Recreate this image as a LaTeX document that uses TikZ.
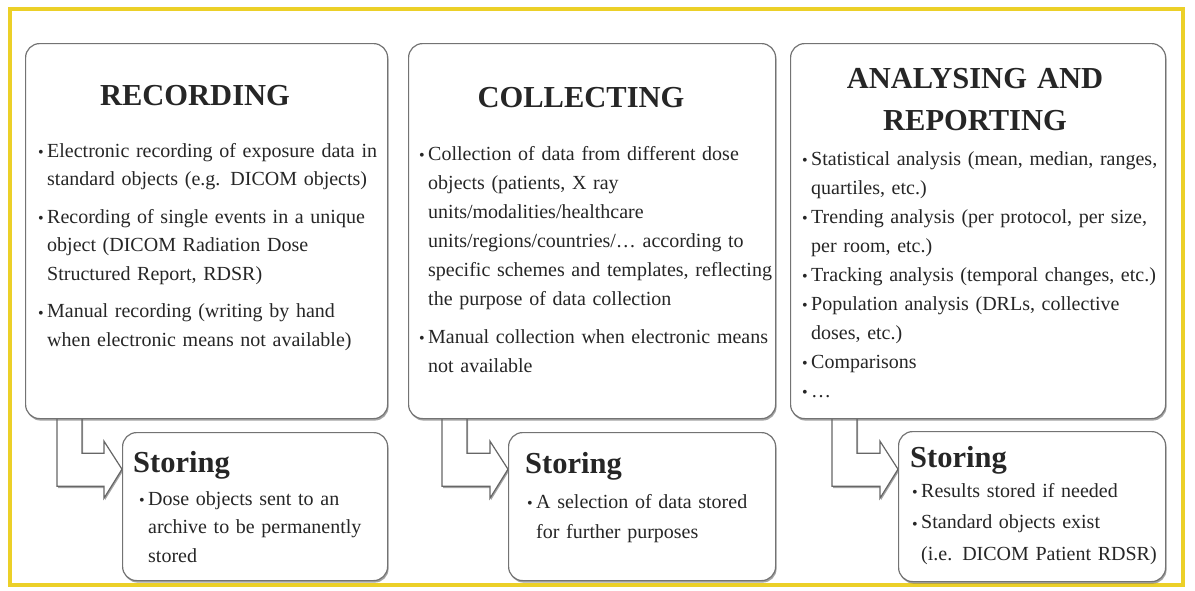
\documentclass[tikz,border=0pt]{standalone}
\usepackage{fontspec}
\setmainfont{Liberation Serif}
\usetikzlibrary{shadows,calc,backgrounds}
\definecolor{framegold}{RGB}{236,208,40}

\newcommand{\bul}{\makebox[9pt][l]{\raisebox{-0.04em}{\scalebox{0.8}{\textbullet}}}}
\newcommand{\bitem}[1]{\hangindent=9pt\hangafter=1\noindent\bul#1\par}

\begin{document}
\begin{tikzpicture}[x=1pt,y=-1pt,
  stagebox/.style={draw=black!55,line width=1.2pt,rounded corners=14pt,fill=white,
    anchor=north west,inner sep=0pt,
    drop shadow={shadow xshift=1pt,shadow yshift=-2pt,fill=black!60,opacity=0.6}},
  bentarrow/.style={draw=black!60,line width=1.2pt,fill=white,
    drop shadow={shadow xshift=1pt,shadow yshift=-2pt,fill=black!60,opacity=0.6}},
  heading/.style={font=\fontsize{30.5}{42}\selectfont\bfseries,text=black!85,
    anchor=base,inner sep=0pt},
  listtext/.style={font=\fontsize{20}{28.5}\selectfont,text=black!85,
    anchor=base west,inner sep=0pt,align=left,
    execute at begin node={\setlength{\parskip}{#1}\hyphenpenalty=10000}},
  listtext/.default=9pt]
\useasboundingbox (0,0) rectangle (1195,590);

\node[stagebox,minimum width=362pt,minimum height=375pt] (rec) at (25,43) {};
\node[stagebox,minimum width=367pt,minimum height=375pt] (col) at (408,43) {};
\node[stagebox,minimum width=375pt,minimum height=375pt] (ana) at (790,43) {};
\node[stagebox,minimum width=265pt,minimum height=148pt] (sto1) at (122,432) {};
\node[stagebox,minimum width=267pt,minimum height=148pt] (sto2) at (508,432) {};
\node[stagebox,minimum width=267pt,minimum height=150pt] (sto3) at (898,431) {};

\begin{scope}[on background layer]
\draw[framegold,line width=4pt] (10,9) rectangle (1183,585);
\foreach \b/\s/\d in {rec/sto1/32,col/sto2/34,ana/sto3/42}
  \draw[bentarrow] let \p1=(\b.south west),\p2=(\s.west) in
    (\x1+\d pt,\y1+6pt) -- (\x1+\d pt,\y1-67pt) -- (\x2-18pt,\y1-67pt)
    -- (\x2-18pt,\y1-79pt) -- (\x2,\y1-50pt) -- (\x2-18pt,\y1-22pt)
    -- (\x2-18pt,\y1-34pt) -- (\x1+\d pt+25pt,\y1-34pt) -- (\x1+\d pt+25pt,\y1+6pt);
\end{scope}

\node[heading] (rech) at (195,105) {RECORDING};
\node[heading] (colh) at (581,107) {COLLECTING};
\node[heading,text width=320pt,align=center] (anah) at (975,88) {ANALYSING AND\\REPORTING};

\node[listtext,text width=380pt] (recl) at (38,157) {%
  \bitem{Electronic recording of exposure data in\newline standard objects (e.g. DICOM objects)}%
  \bitem{Recording of single events in a unique\newline object (DICOM Radiation Dose\newline Structured Report, RDSR)}%
  \bitem{Manual recording (writing by hand\newline when electronic means not available)}};
\node[listtext,text width=390pt,font=\fontsize{20}{29}\selectfont] (coll) at (419,160) {%
  \bitem{Collection of data from different dose\newline objects (patients, X ray\newline units/modalities/healthcare\newline units/regions/countries/… according to\newline specific schemes and templates, reflecting\newline the purpose of data collection}%
  \bitem{Manual collection when electronic means\newline not available}};
\node[listtext=0pt,text width=390pt,font=\fontsize{20}{29}\selectfont] (anal) at (802,165) {%
  \bitem{Statistical analysis (mean, median, ranges,\newline quartiles, etc.)}%
  \bitem{Trending analysis (per protocol, per size,\newline per room, etc.)}%
  \bitem{Tracking analysis (temporal changes, etc.)}%
  \bitem{Population analysis (DRLs, collective\newline doses, etc.)}%
  \bitem{Comparisons}%
  \bitem{…}};

\node[heading,anchor=base west] (sto1h) at (133,472) {Storing};
\node[heading,anchor=base west] (sto2h) at (525,473) {Storing};
\node[heading,anchor=base west] (sto3h) at (910,467) {Storing};

\node[listtext,text width=260pt] (sto1l) at (139,505) {%
  \bitem{Dose objects sent to an\newline archive to be permanently\newline stored}};
\node[listtext,text width=260pt,font=\fontsize{20}{30}\selectfont] (sto2l) at (527,508) {%
  \bitem{A selection of data stored\newline for further purposes}};
\node[listtext=0pt,text width=260pt,font=\fontsize{20}{31.5}\selectfont] (sto3l) at (912,497) {%
  \bitem{Results stored if needed}%
  \bitem{Standard objects exist\newline (i.e. DICOM Patient RDSR)}};
\end{tikzpicture}
\end{document}
